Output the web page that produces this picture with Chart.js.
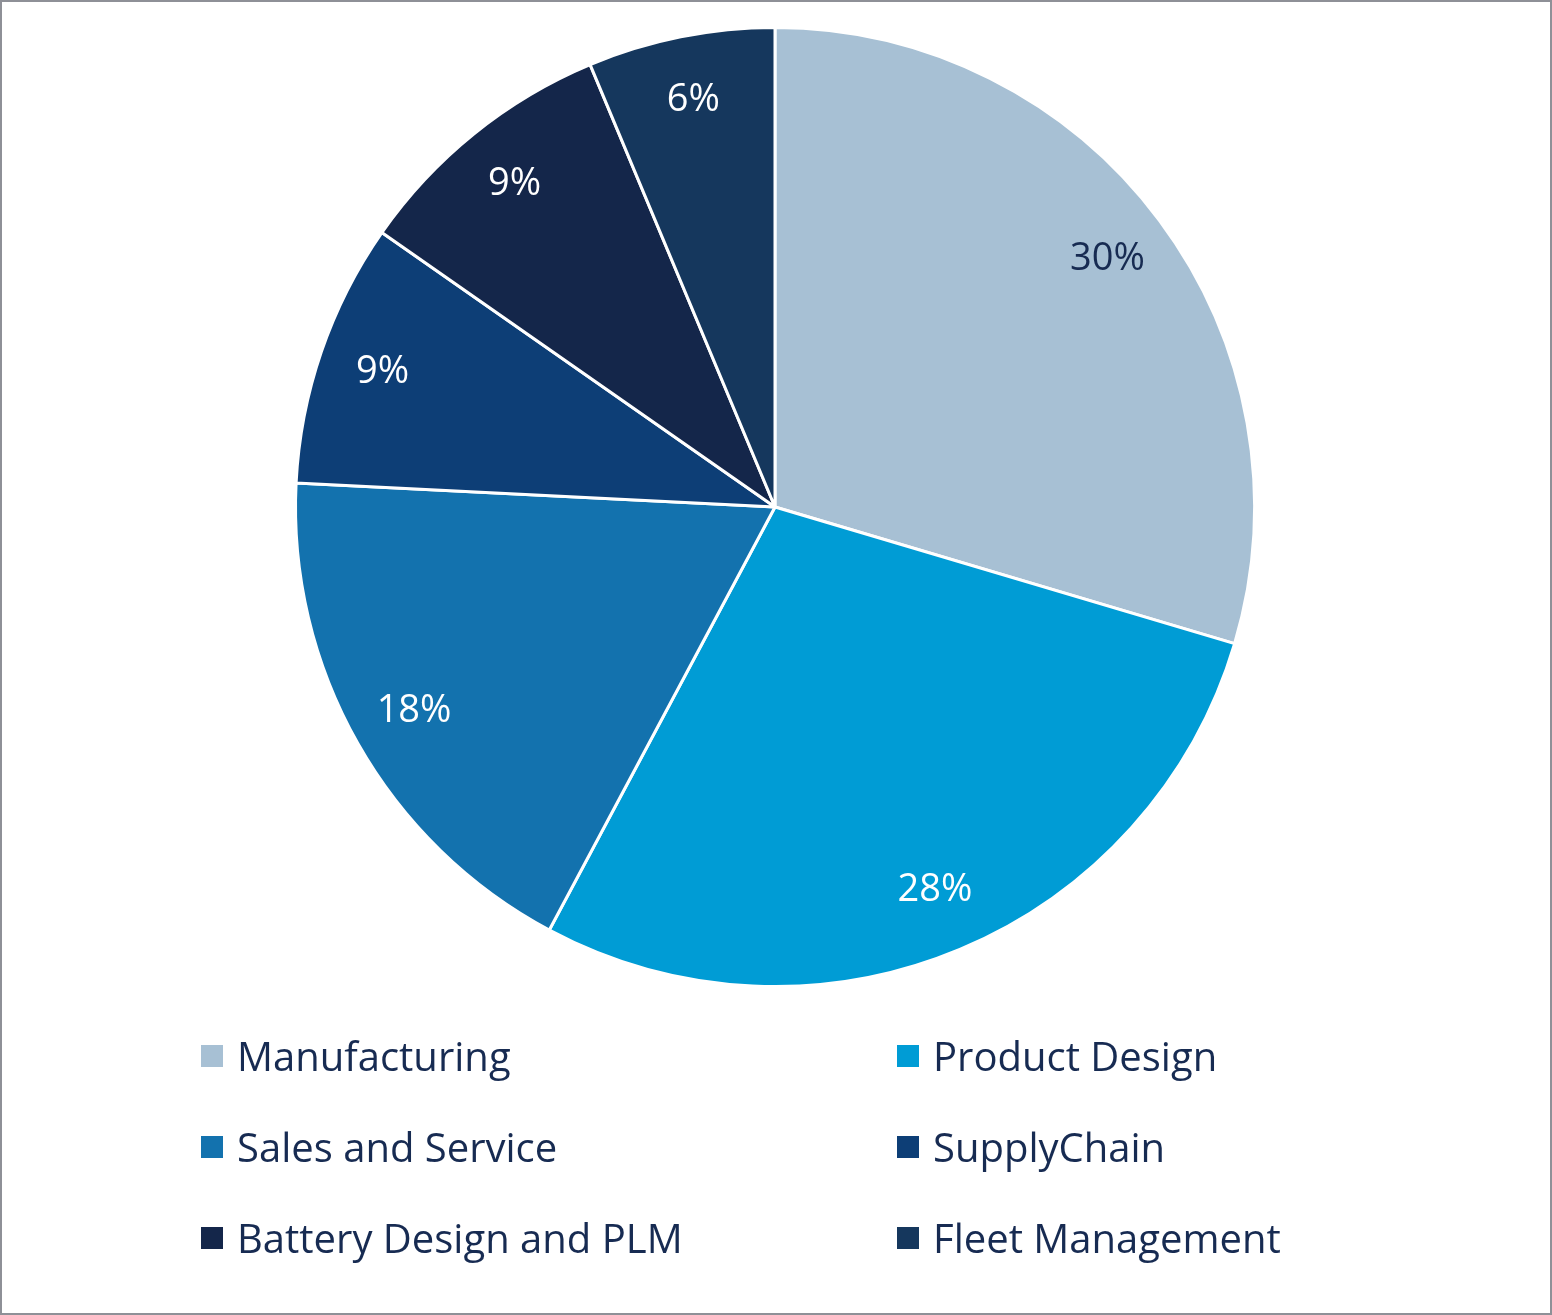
<!DOCTYPE html>
<html lang="en">
<head>
<meta charset="UTF-8" />
<title>Share by area</title>
<script src="https://cdn.jsdelivr.net/npm/chart.js"></script>
<style>
  html, body { margin: 0; padding: 0; background: #fff; }
  .frame { position: absolute; left: 0; top: 0; width: 1552px; height: 1315px; box-sizing: border-box; border: 2px solid #8e9097; background: #fff; }
  #pie { position: absolute; left: 0; top: 0; }
  .legend-item { position: absolute; display: flex; align-items: center; font-family: 'Open Sans', sans-serif; font-size: 40px; color: #172b52; white-space: nowrap; }
  .legend-item .box { width: 22px; height: 22px; margin-right: 14px; flex: none; }
</style>
</head>
<body>
<div class="frame">
  <canvas id="pie" width="1552" height="1315"></canvas>
  <div id="legend"></div>
</div>

<script>
  const categories = ['Manufacturing', 'Product Design', 'Sales and Service', 'SupplyChain', 'Battery Design and PLM', 'Fleet Management'];
  const shares = [29.6, 28.2, 18.0, 8.9, 9.0, 6.3];
  const colors = ['#a7c0d4', '#009cd5', '#1372ae', '#0d3e76', '#14264a', '#15375d'];
  const labelColors = ['#172b52', '#fff', '#fff', '#fff', '#fff', '#fff'];

  // percent labels inside each slice
  const sliceLabels = {
    id: 'sliceLabels',
    afterDatasetsDraw(chart) {
      const { ctx } = chart;
      const meta = chart.getDatasetMeta(0);
      const total = shares.reduce((a, b) => a + b, 0);
      ctx.save();
      ctx.font = '38px "Open Sans", sans-serif';
      ctx.textAlign = 'center';
      ctx.textBaseline = 'middle';
      meta.data.forEach((arc, i) => {
        const mid = (arc.startAngle + arc.endAngle) / 2;
        const r = arc.outerRadius * 0.865;
        ctx.fillStyle = labelColors[i];
        ctx.fillText(Math.round(shares[i] / total * 100) + '%', arc.x + Math.cos(mid) * r, arc.y + Math.sin(mid) * r);
      });
      ctx.restore();
    }
  };

  const chart = new Chart(document.getElementById('pie').getContext('2d'), {
    type: 'pie',
    data: {
      labels: categories,
      datasets: [{
        data: shares,
        backgroundColor: colors,
        borderColor: '#fff',
        borderWidth: 3
      }]
    },
    options: {
      responsive: false,
      animation: false,
      layout: { padding: { top: 24, bottom: 329, left: 0, right: 6 } },
      plugins: { legend: { display: false }, tooltip: { enabled: false } }
    },
    plugins: [sliceLabels]
  });

  // two-column legend under the pie
  const legend = document.getElementById('legend');
  categories.forEach((name, i) => {
    const col = i % 2, row = Math.floor(i / 2);
    const item = document.createElement('div');
    item.className = 'legend-item';
    item.style.left = (col ? 895 : 199) + 'px';
    item.style.top = (1026 + row * 91) + 'px';
    item.innerHTML = `<span class="box" style="background:${colors[i]}"></span><span>${name}</span>`;
    legend.appendChild(item);
  });
</script>
</body>
</html>
